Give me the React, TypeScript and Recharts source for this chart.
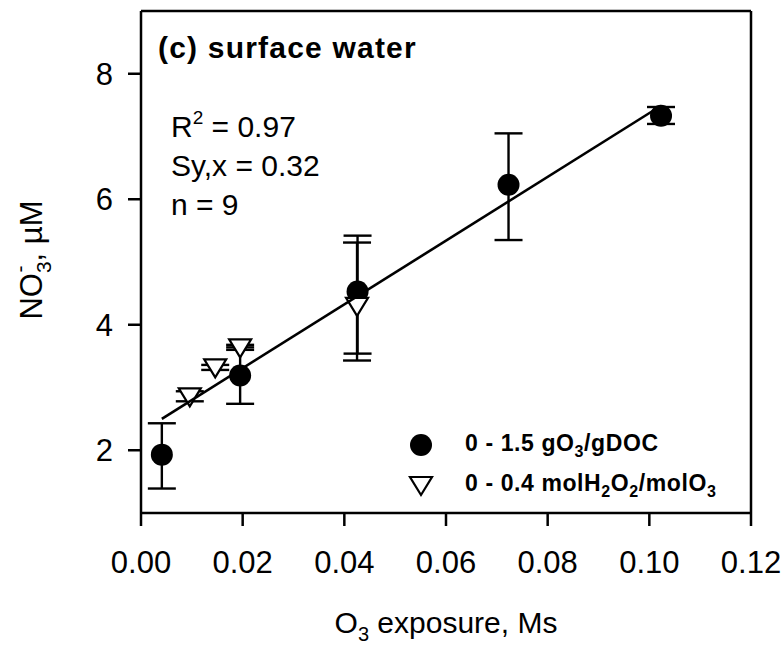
import { ScatterChart, Scatter, XAxis, YAxis, ErrorBar, ReferenceLine, Legend } from 'recharts';

const FONT = "'Liberation Sans', Arial, sans-serif";

// ozone dose series (filled circles)
const circleX = [0.0041, 0.0195, 0.0426, 0.0723, 0.1023];
const circleY = [1.93, 3.19, 4.53, 6.23, 7.33];
const circleErrLow = [0.54, 0.45, 0.99, 0.88, 0.13];
const circleErrHigh = [0.5, 0.45, 0.89, 0.82, 0.14];

// H2O2 dose series (open triangles)
const triX = [0.0096, 0.0146, 0.0195, 0.0425];
const triY = [2.86, 3.32, 3.64, 4.3];
const triErrLow = [0.08, 0.04, 0.04, 0.87];
const triErrHigh = [0.08, 0.04, 0.04, 1.01];

// linear fit endpoints
const fitX = [0.0041, 0.1023];
const fitY = [2.5, 7.49];

const xTicks = [0, 0.02, 0.04, 0.06, 0.08, 0.1, 0.12];
const yTicks = [2, 4, 6, 8];

const circles = circleX.map((x, i) => ({ x, y: circleY[i], err: [circleErrLow[i], circleErrHigh[i]] }));
const triangles = triX.map((x, i) => ({ x, y: triY[i], err: [triErrLow[i], triErrHigh[i]] }));
const fit = fitX.map((x, i) => ({ x, y: fitY[i] }));

const CircleDot = (p: any) => <circle cx={p.cx} cy={p.cy} r={11} fill="#000" />;
const TriDot = (p: any) => (
  <path
    d={`M${p.cx - 11},${p.cy - 8} L${p.cx + 11},${p.cy - 8} L${p.cx},${p.cy + 10} Z`}
    fill="#fff"
    stroke="#000"
    strokeWidth={2.2}
  />
);
const NoDot = () => <g />;

function LegendBox() {
  return (
    <svg width={340} height={80} style={{ display: 'block' }}>
      <circle cx={13} cy={15} r={11} fill="#000" />
      <text x={57} y={21} fontFamily={FONT} fontWeight="bold" fontSize={23} letterSpacing={0.6}>
        0 - 1.5 gO<tspan fontSize={16} dy={6}>3</tspan>
        <tspan dy={-6}>/gDOC</tspan>
      </text>
      <path d="M2,47 L24,47 L13,65 Z" fill="#fff" stroke="#000" strokeWidth={2.2} />
      <text x={57} y={61} fontFamily={FONT} fontWeight="bold" fontSize={23} letterSpacing={0.6}>
        0 - 0.4 molH<tspan fontSize={16} dy={6}>2</tspan>
        <tspan dy={-6}>O</tspan>
        <tspan fontSize={16} dy={6}>2</tspan>
        <tspan dy={-6}>/molO</tspan>
        <tspan fontSize={16} dy={6}>3</tspan>
      </text>
    </svg>
  );
}

export default function App() {
  const axisStyle = { stroke: '#000', strokeWidth: 2.5 };
  const tickStyle = { fill: '#000', fontSize: 31, fontFamily: FONT };
  return (
    <div style={{ position: 'absolute', left: 0, top: 0, width: 783, height: 646, background: '#fff' }}>
      <ScatterChart width={783} height={646} margin={{ top: 11, right: 32, left: 0, bottom: 53 }}>
        <XAxis
          type="number"
          dataKey="x"
          domain={[0, 0.12]}
          ticks={xTicks}
          tickFormatter={(v: number) => v.toFixed(2)}
          height={80}
          axisLine={axisStyle}
          tickLine={axisStyle}
          tickSize={13}
          tickMargin={25}
          tick={tickStyle}
          interval={0}
        />
        <YAxis
          type="number"
          dataKey="y"
          domain={[1, 9]}
          ticks={yTicks}
          width={141}
          axisLine={axisStyle}
          tickLine={axisStyle}
          tickSize={13}
          tickMargin={15}
          tick={tickStyle}
          interval={0}
        />
        <ReferenceLine y={9} stroke="#000" strokeWidth={2.5} />
        <ReferenceLine x={0.12} stroke="#000" strokeWidth={2.5} />
        <Scatter name="0 - 1.5 gO3/gDOC" data={circles} shape={CircleDot} isAnimationActive={false}>
          <ErrorBar dataKey="err" direction="y" width={14} stroke="#000" strokeWidth={2.4} />
        </Scatter>
        <Scatter name="0 - 0.4 molH2O2/molO3" data={triangles} shape={TriDot} isAnimationActive={false}>
          <ErrorBar dataKey="err" direction="y" width={14} stroke="#000" strokeWidth={2.4} />
        </Scatter>
        <Scatter
          name="fit"
          data={fit}
          shape={NoDot}
          line={{ stroke: '#000', strokeWidth: 2.6 }}
          legendType="none"
          isAnimationActive={false}
        />
        <Legend
          layout="vertical"
          align="center"
          verticalAlign="middle"
          content={() => <LegendBox />}
          wrapperStyle={{ left: 408, top: 430, width: 340, height: 80 }}
        />
      </ScatterChart>
      <svg
        width={783}
        height={646}
        style={{ position: 'absolute', left: 0, top: 0, pointerEvents: 'none' }}
        fontFamily={FONT}
      >
        <text x={158} y={58} fontSize={30} fontWeight="bold" letterSpacing={1.2}>
          (c) surface water
        </text>
        <text x={171} y={137} fontSize={30}>
          R<tspan fontSize={19} dy={-13}>2</tspan>
          <tspan dy={13}> = 0.97</tspan>
        </text>
        <text x={171} y={176} fontSize={30}>
          Sy,x = 0.32
        </text>
        <text x={171} y={215} fontSize={30}>
          n = 9
        </text>
        <text x={446} y={633} fontSize={30} textAnchor="middle">
          O<tspan fontSize={20} dy={8}>3</tspan>
          <tspan dy={-8}> exposure, Ms</tspan>
        </text>
        <text x={42} y={260} fontSize={31} textAnchor="middle" transform="rotate(-90, 42, 260)">
          NO<tspan fontSize={21} dy={9}>3</tspan>
          <tspan fontSize={21} dx={-11} dy={-24}>-</tspan>
          <tspan dx={4} dy={15}>,</tspan>
          <tspan> µM</tspan>
        </text>
      </svg>
    </div>
  );
}
